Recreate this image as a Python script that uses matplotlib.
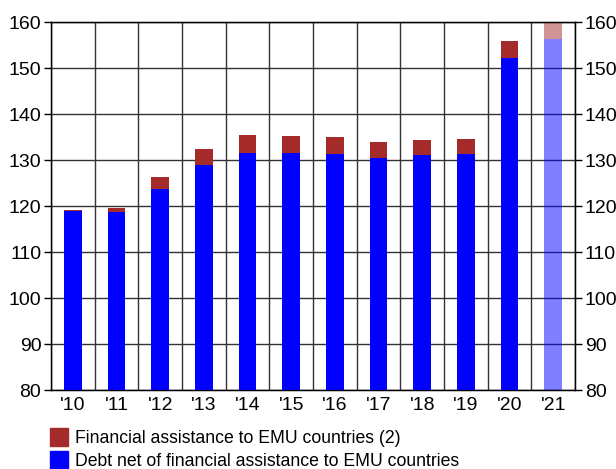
import numpy as np
import matplotlib.pyplot as plt
from matplotlib.patches import Patch

plt.rcParams["font.family"] = ["Liberation Sans", "DejaVu Sans"]

years = ["'10", "'11", "'12", "'13", "'14", "'15", "'16", "'17", "'18", "'19", "'20", "'21"]
debt_net = [119.0, 118.8, 123.8, 129.0, 131.6, 131.6, 131.4, 130.5, 131.0, 131.4, 152.2, 156.4]
assistance = [0.2, 0.8, 2.6, 3.5, 3.9, 3.7, 3.5, 3.5, 3.4, 3.2, 3.7, 4.0]

BLUE = "#0000ff"
RED = "#a52a2a"

fig = plt.figure(figsize=(6.16, 4.69), dpi=100)
ax = fig.add_axes([0.0828, 0.1684, 0.8506, 0.7846])

x = np.arange(len(years))
n_hist = len(years) - 1
width = 0.41

# historical years
ax.bar(x[:n_hist], debt_net[:n_hist], width, bottom=0, color=BLUE, zorder=3)
ax.bar(x[:n_hist], assistance[:n_hist], width, bottom=debt_net[:n_hist], color=RED, zorder=3)
# forecast year, faded
ax.bar(x[n_hist:], debt_net[n_hist:], width, color=BLUE, alpha=0.5, zorder=3)
ax.bar(x[n_hist:], assistance[n_hist:], width, bottom=debt_net[n_hist:], color=RED, alpha=0.5, zorder=3)

ax.set_xlim(-0.5, len(years) - 0.5)
ax.set_ylim(80, 160)
ax.set_yticks(np.arange(80, 161, 10))
ax.set_xticks(x)
ax.set_xticklabels(years)
ax.set_xticks(np.arange(-0.5, len(years), 1.0), minor=True)

ax.grid(True, which="major", axis="y", color="#333333", lw=1.0, zorder=1)
ax.grid(True, which="minor", axis="x", color="#333333", lw=1.0, zorder=1)
ax.tick_params(axis="x", which="both", length=0, labelsize=14, pad=5)
ax.tick_params(axis="y", length=5, width=1, labelsize=14, direction="out", pad=2)
for s in ax.spines.values():
    s.set_linewidth(1.0)

ax2 = ax.twinx()
ax2.set_ylim(ax.get_ylim())
ax2.set_yticks(np.arange(80, 161, 10))
ax2.tick_params(axis="y", length=5, width=1, labelsize=14, direction="out", pad=2)

handles = [Patch(color=RED), Patch(color=BLUE)]
labels = ["Financial assistance to EMU countries (2)",
          "Debt net of financial assistance to EMU countries"]
fig.legend(handles, labels, loc="upper left", bbox_to_anchor=(0.081, 0.088),
           frameon=False, fontsize=12.7, handlelength=1.0, handleheight=1.25,
           handletextpad=0.45, labelspacing=0.2, borderaxespad=0, borderpad=0)

fig.savefig("out.png", dpi=100)
